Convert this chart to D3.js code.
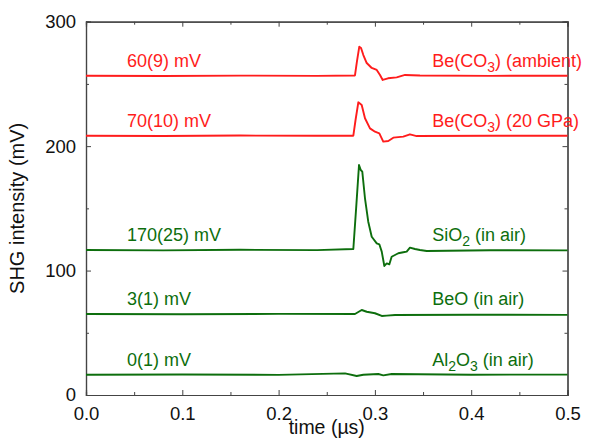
<!DOCTYPE html>
<html>
<head>
<meta charset="utf-8">
<script src="https://cdn.jsdelivr.net/npm/d3@7"></script>
<style>
  body { margin: 0; background: #fff; }
  text { font-family: "Liberation Sans", Arial, sans-serif; }
</style>
</head>
<body>
<div id="chart"></div>
<script>
// traces: [time (µs), SHG intensity (mV)]
var beCO3Ambient = [
  [0, 256.6], [0.08, 256.4], [0.16, 256.7], [0.24, 256.5], [0.2793, 256.8],
  [0.2814, 268.4], [0.2838, 279.9], [0.2856, 278.9], [0.288, 273.2], [0.2915, 266.8],
  [0.2967, 262.8], [0.3019, 261.2], [0.3053, 257.2], [0.3081, 253.2], [0.3136, 254.5],
  [0.3226, 255.3], [0.3313, 257.2], [0.3468, 256.8], [0.42, 256.5], [0.5, 256.6]
];
var beCO3Pressure = [
  [0, 208.4], [0.08, 208.2], [0.16, 208.5], [0.24, 208.3], [0.2776, 208.4],
  [0.2799, 221.0], [0.2828, 235.2], [0.2863, 233.1], [0.2897, 222.4], [0.2949, 214.3],
  [0.3001, 211.6], [0.3046, 210.3], [0.3087, 203.6], [0.3139, 204.1], [0.3191, 206.8],
  [0.3295, 207.6], [0.3364, 209.5], [0.3434, 208.1], [0.42, 208.4], [0.5, 208.3]
];
var sio2 = [
  [0, 116.5], [0.08, 116.2], [0.16, 116.7], [0.24, 116.4], [0.2776, 117.3],
  [0.2805, 150.0], [0.2835, 184.8], [0.2853, 180.8], [0.2869, 179.5], [0.2897, 158.1],
  [0.2931, 139.3], [0.2967, 127.2], [0.3019, 121.9], [0.3046, 121.1], [0.3071, 115.2],
  [0.3098, 103.7], [0.3123, 105.8], [0.315, 105.0], [0.3174, 111.1], [0.3243, 113.9],
  [0.3295, 114.7], [0.333, 115.2], [0.3364, 118.4], [0.3416, 117.3], [0.3468, 116.5],
  [0.3538, 115.7], [0.42, 116.3], [0.5, 116.2]
];
var beO = [
  [0, 65.1], [0.1, 64.9], [0.2, 65.2], [0.2793, 65.1], [0.2863, 68.3],
  [0.2915, 66.9], [0.3001, 65.7], [0.3071, 63.5], [0.3123, 63.8], [0.3209, 64.3],
  [0.4, 64.5], [0.5, 64.4]
];
var al2o3 = [
  [0, 16.3], [0.1, 16.5], [0.2, 16.2], [0.269, 17.4], [0.2811, 15.3],
  [0.288, 16.3], [0.3035, 16.9], [0.3087, 15.8], [0.3174, 16.9], [0.4, 16.3], [0.5, 16.4]
];

var traces = [beCO3Ambient, beCO3Pressure, sio2, beO, al2o3];
var traceColors = ["#ff1c1c", "#ff1c1c", "#0d6e0d", "#0d6e0d", "#0d6e0d"];
var baselines = [256.6, 208.4, 116.5, 65.1, 16.3];
var amplitudeLabels = ["60(9) mV", "70(10) mV", "170(25) mV", "3(1) mV", "0(1) mV"];
var sampleLabels = ["Be(CO_3) (ambient)", "Be(CO_3) (20 GPa)", "SiO_2 (in air)", "BeO (in air)", "Al_2O_3 (in air)"];

var xTicks = [0, 0.1, 0.2, 0.3, 0.4, 0.5];
var xMinor = [0.05, 0.15, 0.25, 0.35, 0.45];
var yTicks = [0, 100, 200, 300];
var yMinor = [50, 150, 250];

var svgWidth = 610;
var svgHeight = 445;
var margin = {top: 21.7, right: 42.5, bottom: 50, left: 86};
var width = svgWidth - margin.left - margin.right;
var height = svgHeight - margin.top - margin.bottom;

var svg = d3.select("#chart")
  .append("svg")
  .attr("width", svgWidth)
  .attr("height", svgHeight);

var chartGroup = svg.append("g")
  .attr("transform", `translate(${margin.left}, ${margin.top})`);

var xScale = d3.scaleLinear().domain([0, 0.5]).range([0, width]);
var yScale = d3.scaleLinear().domain([0, 300]).range([height, 0]);

var axisColor = "#444";

// axes with inward ticks
function styleAxis(g) {
  g.select(".domain").attr("stroke", axisColor).attr("stroke-width", 1.2);
  g.selectAll(".tick line").attr("stroke", axisColor).attr("stroke-width", 1);
  g.selectAll(".tick text").attr("fill", "#111").style("font-size", "18.5px")
    .style("font-family", "'Liberation Sans', Arial, sans-serif");
}

chartGroup.append("g")
  .attr("transform", `translate(0, ${height})`)
  .call(d3.axisBottom(xScale).tickValues(xMinor).tickSize(-3).tickFormat(""))
  .call(styleAxis);
chartGroup.append("g")
  .attr("transform", `translate(0, ${height})`)
  .call(d3.axisBottom(xScale).tickValues(xTicks).tickSize(-5).tickPadding(12).tickFormat(d3.format(".1f")))
  .call(styleAxis);

chartGroup.append("g")
  .call(d3.axisTop(xScale).tickValues(xMinor).tickSize(-3).tickFormat(""))
  .call(styleAxis);
chartGroup.append("g")
  .call(d3.axisTop(xScale).tickValues(xTicks).tickSize(-5).tickFormat(""))
  .call(styleAxis);

chartGroup.append("g")
  .call(d3.axisLeft(yScale).tickValues(yMinor).tickSize(-3).tickFormat(""))
  .call(styleAxis);
chartGroup.append("g")
  .call(d3.axisLeft(yScale).tickValues(yTicks).tickSize(-5).tickPadding(10).tickFormat(d3.format("d")))
  .call(styleAxis);

chartGroup.append("g")
  .attr("transform", `translate(${width}, 0)`)
  .call(d3.axisRight(yScale).tickValues(yMinor).tickSize(-3).tickFormat(""))
  .call(styleAxis);
chartGroup.append("g")
  .attr("transform", `translate(${width}, 0)`)
  .call(d3.axisRight(yScale).tickValues(yTicks).tickSize(-5).tickFormat(""))
  .call(styleAxis);

// axis titles
svg.append("text")
  .attr("x", margin.left + width / 2)
  .attr("y", 434)
  .attr("text-anchor", "middle")
  .style("font-size", "19.5px")
  .attr("fill", "#111")
  .text("time (µs)");

svg.append("text")
  .attr("transform", `translate(24, ${margin.top + height / 2}) rotate(-90)`)
  .attr("text-anchor", "middle")
  .style("font-size", "20px")
  .attr("fill", "#111")
  .text("SHG intensity (mV)");

// traces
var line = d3.line()
  .x(d => xScale(d[0]))
  .y(d => yScale(d[1]));

chartGroup.selectAll(".trace")
  .data(traces)
  .enter()
  .append("path")
  .attr("class", "trace")
  .attr("d", line)
  .attr("fill", "none")
  .attr("stroke", (d, i) => traceColors[i])
  .attr("stroke-width", 1.9)
  .attr("stroke-linejoin", "round");

// labels
chartGroup.selectAll(".amp")
  .data(amplitudeLabels)
  .enter()
  .append("text")
  .attr("class", "amp")
  .attr("x", xScale(0.0425))
  .attr("y", (d, i) => yScale(baselines[i]) - 9)
  .attr("fill", (d, i) => traceColors[i])
  .style("font-size", "18px")
  .text(d => d);

// sample names, "_n" marks a subscript digit
sampleLabels.forEach(function(label, i) {
  var t = chartGroup.append("text")
    .attr("x", xScale(0.3595))
    .attr("y", yScale(baselines[i]) - 9)
    .attr("fill", traceColors[i])
    .style("font-size", "18px");
  var parts = label.split(/(_\d)/);
  var shifted = false;
  parts.forEach(function(p) {
    if (p === "") return;
    if (p[0] === "_") {
      t.append("tspan").attr("dy", shifted ? 0 : 5).style("font-size", "14px").text(p.slice(1));
      shifted = true;
    } else {
      t.append("tspan").attr("dy", shifted ? -5 : 0).text(p);
      shifted = false;
    }
  });
});
</script>
</body>
</html>
